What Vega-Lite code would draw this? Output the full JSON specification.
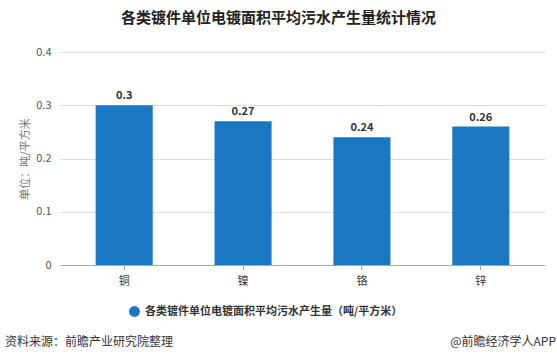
{
  "$schema": "https://vega.github.io/schema/vega-lite/v6.json",
  "autosize": "none",
  "width": 485,
  "height": 213,
  "padding": {"left": 60, "top": 52, "right": 12, "bottom": 99},
  "background": "white",
  "config": {
    "font": "Noto Sans CJK SC",
    "view": {"stroke": null}
  },
  "title": {
    "text": "各类镀件单位电镀面积平均污水产生量统计情况",
    "fontSize": 15,
    "fontWeight": "bold",
    "color": "#222",
    "anchor": "middle",
    "dx": -24,
    "offset": 20,
    "font": "Noto Sans CJK SC"
  },
  "layer": [
    {
      "data": {"values": [
        {"metal": "铜", "value": 0.3, "series": "各类镀件单位电镀面积平均污水产生量（吨/平方米）"},
        {"metal": "镍", "value": 0.27, "series": "各类镀件单位电镀面积平均污水产生量（吨/平方米）"},
        {"metal": "铬", "value": 0.24, "series": "各类镀件单位电镀面积平均污水产生量（吨/平方米）"},
        {"metal": "锌", "value": 0.26, "series": "各类镀件单位电镀面积平均污水产生量（吨/平方米）"}
      ]},
      "encoding": {
        "x": {
          "field": "metal", "type": "nominal", "sort": null,
          "scale": {"paddingInner": 0.52, "paddingOuter": 0.3},
          "axis": {
            "title": null, "labelAngle": 0, "labelFontSize": 11, "labelColor": "#333",
            "domainColor": "#aaa", "tickColor": "#aaa", "tickSize": 5, "labelPadding": 5
          }
        },
        "y": {
          "field": "value", "type": "quantitative",
          "scale": {"domain": [0, 0.4]},
          "axis": {
            "values": [0, 0.1, 0.2, 0.3, 0.4], "format": "~g",
            "title": "单位：吨/平方米", "titleFontSize": 11, "titleFontWeight": "normal",
            "titleColor": "#777", "titlePadding": 5,
            "labelFontSize": 11, "labelColor": "#555", "labelPadding": 9,
            "domain": false, "ticks": false, "gridColor": "#ddd"
          }
        }
      },
      "layer": [
        {
          "mark": {"type": "bar", "color": "#1a78c2"},
          "encoding": {
            "color": {
              "field": "series", "type": "nominal",
              "scale": {"range": ["#1a78c2"]},
              "legend": {
                "title": null, "orient": "none", "legendX": 68, "legendY": 253,
                "symbolType": "circle", "symbolSize": 120, "labelFontSize": 11,
                "labelFontWeight": "bold", "labelColor": "#333", "labelLimit": 400
              }
            }
          }
        },
        {
          "mark": {"type": "text", "dy": -9, "fontSize": 11, "fontWeight": "bold", "color": "#333"},
          "encoding": {"text": {"field": "value", "type": "quantitative", "format": "~g"}}
        }
      ]
    },
    {
      "data": {"values": [
        {"label": "资料来源：前瞻产业研究院整理", "side": "left"}
      ]},
      "mark": {"type": "text", "align": "left", "baseline": "middle", "fontSize": 12, "color": "#333"},
      "encoding": {
        "text": {"field": "label"},
        "x": {"value": -55},
        "y": {"value": 290}
      }
    },
    {
      "data": {"values": [
        {"label": "@前瞻经济学人APP", "side": "right"}
      ]},
      "mark": {"type": "text", "align": "right", "baseline": "middle", "fontSize": 12, "color": "#333"},
      "encoding": {
        "text": {"field": "label"},
        "x": {"value": 496},
        "y": {"value": 290}
      }
    }
  ]
}
